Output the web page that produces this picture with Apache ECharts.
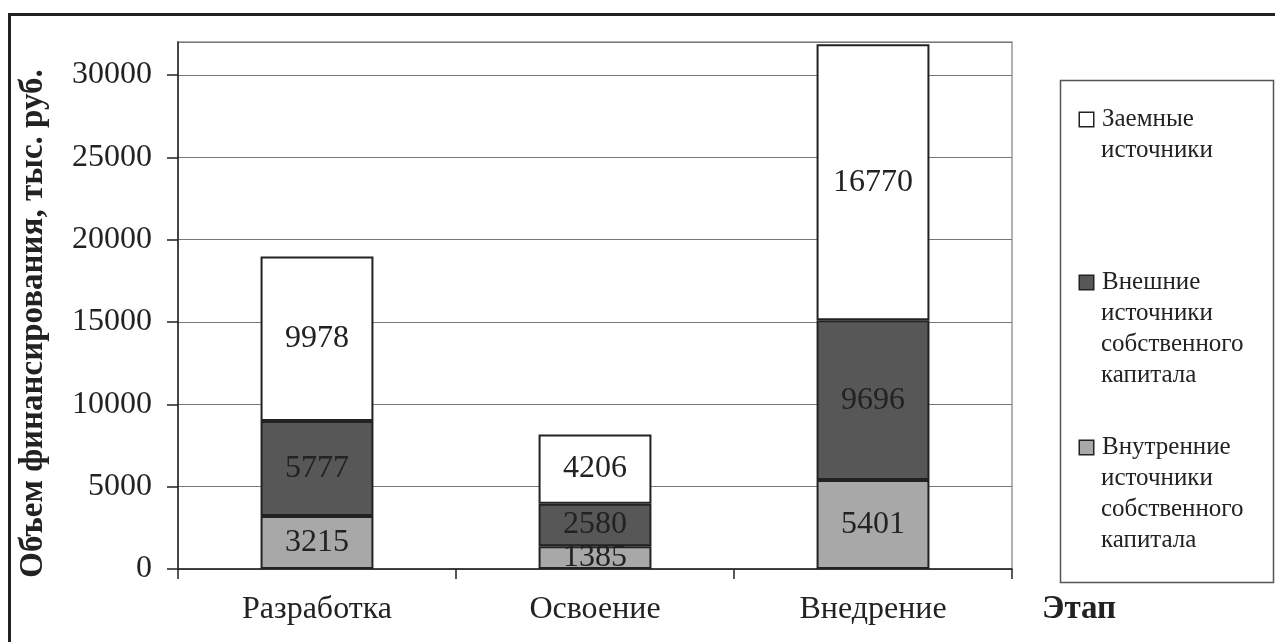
<!DOCTYPE html>
<html>
<head>
<meta charset="utf-8">
<script src="https://cdn.jsdelivr.net/npm/echarts@6/dist/echarts.min.js"></script>
<style>html,body{margin:0;padding:0;background:#fff}#c{width:1275px;height:642px}</style>
</head>
<body>
<div id="c"></div>
<script>
const categories = ['Разработка', 'Освоение', 'Внедрение'];
const seriesNames = ['Внутренние источники собственного капитала', 'Внешние источники собственного капитала', 'Заемные источники'];
const internalValues = [3215, 1385, 5401];
const externalValues = [5777, 2580, 9696];
const loanValues = [9978, 4206, 16770];
const yTicks = [0, 5000, 10000, 15000, 20000, 25000, 30000];
const legendLines = {
  'Заемные источники': ['Заемные', 'источники'],
  'Внешние источники собственного капитала': ['Внешние', 'источники', 'собственного', 'капитала'],
  'Внутренние источники собственного капитала': ['Внутренние', 'источники', 'собственного', 'капитала']
};

const FONT = 'Liberation Serif';
const colors = ['#a8a8a8', '#575757', '#ffffff'];
const chart = echarts.init(document.getElementById('c'), null, {renderer: 'canvas'});

function legendFor(name, color, top) {
  const lines = legendLines[name];
  return {
    data: [name], left: 1074, top: top, orient: 'vertical', padding: 0,
    itemWidth: 0, itemHeight: 0, icon: 'rect', selectedMode: false,
    formatter: function (n) {
      return lines.map((l, i) => (i === 0 ? '{sq|}{gap|}' : '{pad|}') + '{t|' + l + '}').join('\n');
    },
    textStyle: {
      fontFamily: FONT, fontSize: 25, color: '#222', lineHeight: 31,
      rich: {
        sq: {width: 13, height: 13, backgroundColor: color, borderColor: '#222', borderWidth: 1.5, verticalAlign: 'middle'},
        gap: {width: 9},
        pad: {width: 21},
        t: {fontFamily: FONT, fontSize: 25, color: '#222', lineHeight: 31}
      }
    }
  };
}

const labelStyle = {show: true, position: 'inside', fontFamily: FONT, fontSize: 32, color: '#222'};
const seriesData = [internalValues, externalValues, loanValues];

chart.setOption({
  animation: false,
  textStyle: {fontFamily: FONT},
  grid: {left: 178, right: 263, top: 42, bottom: 73, show: true, borderColor: '#999', borderWidth: 1.5, backgroundColor: 'transparent'},
  legend: [
    legendFor(seriesNames[2], colors[2], 104),
    legendFor(seriesNames[1], colors[1], 267),
    legendFor(seriesNames[0], colors[0], 432)
  ],
  xAxis: {
    type: 'category', data: categories,
    name: 'Этап', nameLocation: 'end', nameGap: 30,
    nameTextStyle: {fontFamily: FONT, fontSize: 33, fontWeight: 'bold', color: '#222', verticalAlign: 'top', padding: [24, 0, 0, 0]},
    axisLine: {lineStyle: {color: '#222', width: 1.5}},
    axisTick: {show: true, length: 10, lineStyle: {color: '#222', width: 1.5}},
    axisLabel: {fontFamily: FONT, fontSize: 32, color: '#222', margin: 25}
  },
  yAxis: {
    type: 'value', min: 0, max: 32000, interval: 5000,
    name: 'Объем финансирования, тыс. руб.', nameLocation: 'middle', nameGap: 128,
    nameTextStyle: {fontFamily: FONT, fontSize: 33, fontWeight: 'bold', color: '#222', padding: [0, 36, 0, 0]},
    axisLine: {show: true, lineStyle: {color: '#222', width: 1.5}},
    axisTick: {show: true, length: 11, lineStyle: {color: '#222', width: 1.5}},
    axisLabel: {fontFamily: FONT, fontSize: 32, color: '#222', margin: 26, showMaxLabel: false,
      formatter: v => (yTicks.indexOf(v) >= 0 ? String(v) : '')},
    splitLine: {show: true, lineStyle: {color: '#777', width: 1.2}}
  },
  series: seriesNames.map((n, i) => ({
    name: n, type: 'bar', stack: 'total', data: seriesData[i], barWidth: '40.6%',
    itemStyle: {color: colors[i], borderColor: '#222', borderWidth: 2},
    label: labelStyle
  })),
  graphic: [
    {type: 'rect', left: 1058, top: 78, shape: {width: 213, height: 502}, style: {fill: 'none', stroke: '#555', lineWidth: 1.5}, z: -1},
    {type: 'rect', shape: {x: 9.5, y: 14.5, width: 1400, height: 800}, style: {fill: 'none', stroke: '#222', lineWidth: 3}, z: 100}
  ]
});
</script>
</body>
</html>
